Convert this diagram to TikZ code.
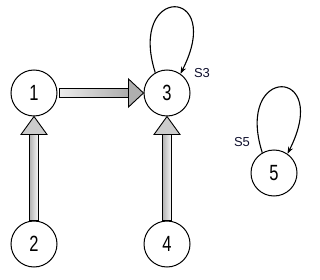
\documentclass[tikz,border=0pt]{standalone}
\usepackage{fontspec}
\setmainfont{Liberation Sans}
\newfontfamily\numfont[FakeStretch=0.75]{Liberation Sans}
\usetikzlibrary{calc,arrows.meta}
\definecolor{lblcol}{RGB}{15,15,45}
\definecolor{headgray}{RGB}{175,175,175}
\tikzset{
  state/.style={circle, draw=black, line width=1pt, minimum size=46pt, inner sep=0pt, font=\numfont\fontsize{22}{22}\selectfont},
  shaftbox/.style={draw=black, line width=0.9pt},
  headbox/.style={draw=black, line width=0.9pt, fill=headgray, line join=miter},
  selfloop/.style={line width=1.1pt, -{Stealth[length=7pt,width=5pt]}},
  lbl/.style={font=\fontsize{13}{13}\selectfont, text=lblcol, inner sep=0pt}
}
\begin{document}
\begin{tikzpicture}[x=1pt,y=-1pt]
\useasboundingbox (0,0) rectangle (320,280);
\node[state] (n1) at (34,93) {1};
\node[state] (n3) at (167,93) {3};
\node[state] (n2) at (34,244) {2};
\node[state] (n4) at (167,244) {4};
\node[state] (n5) at (274,173) {5};
\node[lbl] (s3) at (202,73) {S3};
\node[lbl] (s5) at (242,142) {S5};
% 1 -> 3
\draw[shaftbox, left color=gray!15, right color=gray!65] ($(n1.east)+(1.5,-4.5)$) rectangle ($(n3.west)+(-15,4.5)$);
\draw[headbox] ($(n3.west)+(-15,-14)$) -- (n3.west) -- ($(n3.west)+(-15,14)$) -- cycle;
% 2 -> 1
\draw[shaftbox, left color=gray!60, right color=gray!5] ($(n2.north)+(-4.5,0)$) rectangle ($(n1.south)+(4.5,18)$);
\draw[headbox, fill=gray!40] ($(n1.south)+(-13,18)$) -- (n1.south) -- ($(n1.south)+(13,18)$) -- cycle;
% 4 -> 3
\draw[shaftbox, left color=gray!60, right color=gray!5] ($(n4.north)+(-4.5,0)$) rectangle ($(n3.south)+(4.5,18)$);
\draw[headbox, fill=gray!40] ($(n3.south)+(-13,18)$) -- (n3.south) -- ($(n3.south)+(13,18)$) -- cycle;
% self loops
\draw[selfloop] (n3.120) .. controls +(-28,-88) and +(45,-88) .. (n3.55);
\draw[selfloop] (n5.120) .. controls +(-28,-88) and +(45,-88) .. (n5.55);
\end{tikzpicture}
\end{document}
